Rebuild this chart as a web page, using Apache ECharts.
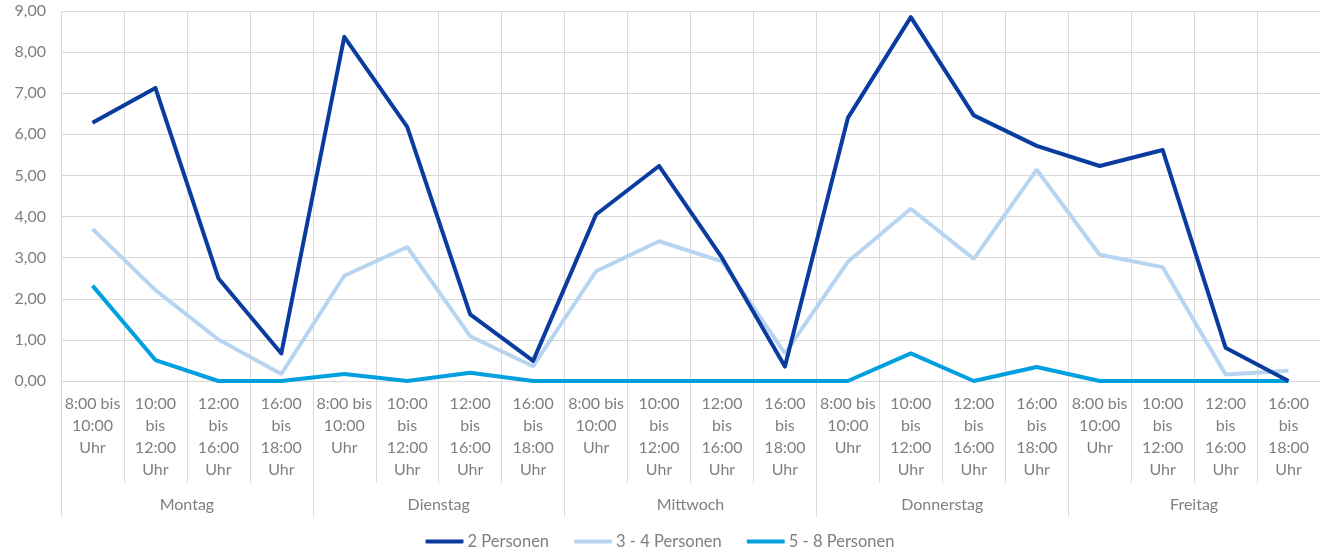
<!DOCTYPE html>
<html>
<head>
<meta charset="utf-8">
<script src="https://cdn.jsdelivr.net/npm/echarts@6/dist/echarts.min.js"></script>
<style>html,body{margin:0;padding:0;background:#fff;}#c{width:1320px;height:548px;}</style>
</head>
<body>
<div id="c"></div>
<script>
var timeSlots = [
  "8:00 bis\n10:00\nUhr", "10:00\nbis\n12:00\nUhr", "12:00\nbis\n16:00\nUhr", "16:00\nbis\n18:00\nUhr"
];
var days = ["Montag", "Dienstag", "Mittwoch", "Donnerstag", "Freitag"];
var seriesNames = ["2 Personen", "3 - 4 Personen", "5 - 8 Personen"];
var pers2 = [6.28, 7.13, 2.50, 0.67, 8.37, 6.18, 1.62, 0.49, 4.05, 5.23, 3.00, 0.35, 6.40, 8.85, 6.46, 5.72, 5.23, 5.62, 0.81, 0.00];
var pers34 = [3.70, 2.21, 1.01, 0.17, 2.56, 3.26, 1.09, 0.36, 2.67, 3.40, 2.91, 0.67, 2.90, 4.19, 2.97, 5.14, 3.07, 2.77, 0.16, 0.25];
var pers58 = [2.32, 0.51, 0.00, 0.00, 0.17, 0.00, 0.20, 0.00, 0.00, 0.00, 0.00, 0.00, 0.00, 0.67, 0.00, 0.34, 0.00, 0.00, 0.00, 0.00];
var yTicks = {min: 0, max: 9, interval: 1};

var categories = [];
days.forEach(function (d) { timeSlots.forEach(function (t) { categories.push(t); }); });

var font = "Lato, 'Liberation Sans', sans-serif";
var gray = "#7f7f7f";
var gridColor = "#d9d9d9";
var colors = ["#0a3c9f", "#b7d5f0", "#00a0e0"];
var fs = 16;

var chart = echarts.init(document.getElementById('c'));
chart.setOption({
  animation: false,
  color: colors,
  textStyle: {fontFamily: font},
  grid: {left: 61, right: -1, top: 11, bottom: 167, containLabel: false},
  legend: {
    top: 528, left: 'center', itemWidth: 38, itemHeight: 4, itemGap: 25, icon: 'roundRect',
    data: seriesNames,
    textStyle: {color: gray, fontSize: 16.5, fontFamily: font, padding: [0, 0, 0, -1]}
  },
  xAxis: [
    {
      type: 'category', data: categories, position: 'bottom', boundaryGap: true,
      axisLine: {show: true, lineStyle: {color: gridColor, width: 1}},
      axisTick: {show: true, interval: 0, length: 102, lineStyle: {color: gridColor}},
      splitLine: {show: true, interval: 0, lineStyle: {color: gridColor, width: 1}},
      axisLabel: {interval: 0, color: gray, fontSize: fs, lineHeight: 22, margin: 12, fontFamily: font}
    },
    {
      type: 'category', data: days, position: 'bottom', boundaryGap: true, offset: 0,
      axisLine: {show: false},
      axisTick: {show: true, interval: 0, length: 136, lineStyle: {color: gridColor}},
      splitLine: {show: false},
      axisLabel: {interval: 0, color: gray, fontSize: fs, margin: 116, fontFamily: font}
    }
  ],
  yAxis: {
    type: 'value', min: yTicks.min, max: yTicks.max, interval: yTicks.interval,
    axisLine: {show: false}, axisTick: {show: false},
    splitLine: {lineStyle: {color: gridColor, width: 1}},
    axisLabel: {color: gray, fontSize: fs, margin: 15, fontFamily: font,
      formatter: function (v) { return v.toFixed(2).replace('.', ','); }}
  },
  series: [
    {name: seriesNames[0], type: 'line', data: pers2, symbol: 'none', lineStyle: {width: 4, join: 'round'}, xAxisIndex: 0, z: 4},
    {name: seriesNames[1], type: 'line', data: pers34, symbol: 'none', lineStyle: {width: 4}, xAxisIndex: 0, z: 3},
    {name: seriesNames[2], type: 'line', data: pers58, symbol: 'none', lineStyle: {width: 4}, xAxisIndex: 0, z: 2}
  ]
});
</script>
</body>
</html>
